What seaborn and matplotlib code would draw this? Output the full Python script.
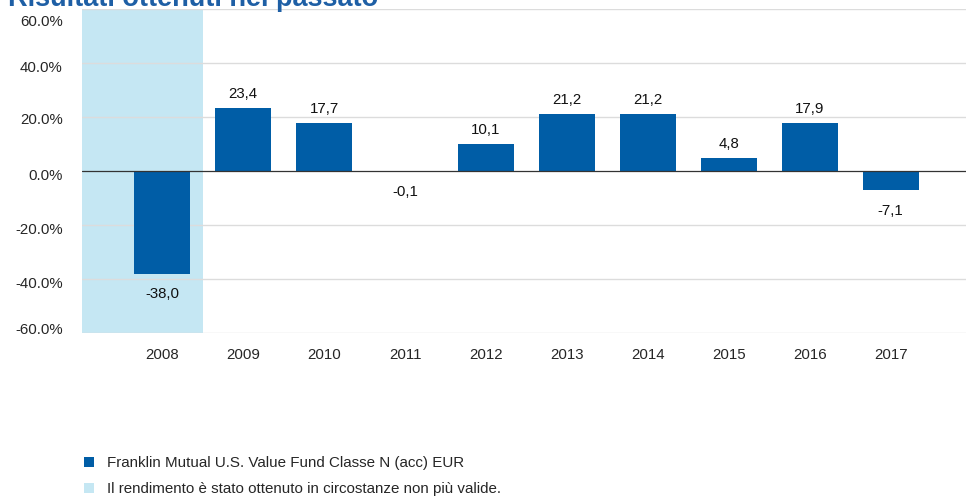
import matplotlib
matplotlib.use("Agg")
import matplotlib.pyplot as plt
import seaborn as sns
import pandas as pd
from matplotlib.patches import Patch
from matplotlib.transforms import ScaledTranslation

years = ["2008", "2009", "2010", "2011", "2012", "2013", "2014", "2015", "2016", "2017"]
returns = [-38.0, 23.4, 17.7, -0.1, 10.1, 21.2, 21.2, 4.8, 17.9, -7.1]
yticks = [-60, -40, -20, 0, 20, 40, 60]
title = "Risultati ottenuti nel passato"
legend_labels = ["Franklin Mutual U.S. Value Fund Classe N (acc) EUR",
                 "Il rendimento è stato ottenuto in circostanze non più valide."]

bar_color = "#005DA6"
shade_color = "#C5E7F3"

sns.set_theme(style="white")
plt.rcParams['font.family'] = ['Liberation Sans', 'DejaVu Sans']

df = pd.DataFrame({"year": years, "ret": returns})

fig = plt.figure(figsize=(9.66, 4.96), dpi=100)
ax = fig.add_axes([82/966, 1-333/496, (966-82)/966, (333-9)/496])

ax.axvspan(-1.5, 0.5, color=shade_color, zorder=0, lw=0)
for t in yticks:
    if t == 0:
        continue
    ax.axhline(t, color="#dcdcdc", lw=1, zorder=0.5)

sns.barplot(data=df, x="year", y="ret", color=bar_color, width=0.69,
            saturation=1, ax=ax, zorder=2, linewidth=0, edgecolor="none")
ax.axhline(0, color="#333333", lw=0.9, zorder=3)

for i, v in enumerate(returns):
    lbl = f"{v:.1f}".replace(".", ",")
    if v >= 0:
        ax.text(i, v + 2.5, lbl, ha="center", va="bottom", fontsize=10.8, color="#111111")
    else:
        ax.text(i, v - 5.0, lbl, ha="center", va="top", fontsize=10.8, color="#111111")

ax.set_xlim(-0.99, 9.93)
ax.set_ylim(-60, 60)
ax.set_yticks(yticks)
ax.set_yticklabels([f"{t:.1f}%" for t in yticks], fontsize=10.8)
ax.tick_params(axis="x", labelsize=10.8, length=0, pad=11)
ax.tick_params(axis="y", length=0, pad=14)
# label vertical offsets in pixels (positive = down)
offsets = {-60: -5, -40: 3, -20: 3, 0: 3, 20: 2, 40: 3, 60: 12}
for t, lab in zip(yticks, ax.get_yticklabels()):
    dy = offsets[t]
    lab.set_transform(lab.get_transform() + ScaledTranslation(0, -dy / 100, fig.dpi_scale_trans))
ax.set_xlabel("")
ax.set_ylabel("")
for s in ax.spines.values():
    s.set_visible(False)

fig.text(8/966, 1-5.5/496, title, fontsize=19.5, fontweight="bold", color="#1E5FA5",
         ha="left", va="baseline")

handles = [Patch(facecolor=bar_color, edgecolor="none"),
           Patch(facecolor=shade_color, edgecolor="none")]
fig.legend(handles, legend_labels, loc="lower left", bbox_to_anchor=(70/966, -14/496),
           frameon=False, fontsize=10.9, handlelength=0.7, handleheight=0.7,
           handletextpad=0.85, labelspacing=0.8)

fig.savefig("out.png", dpi=100)
